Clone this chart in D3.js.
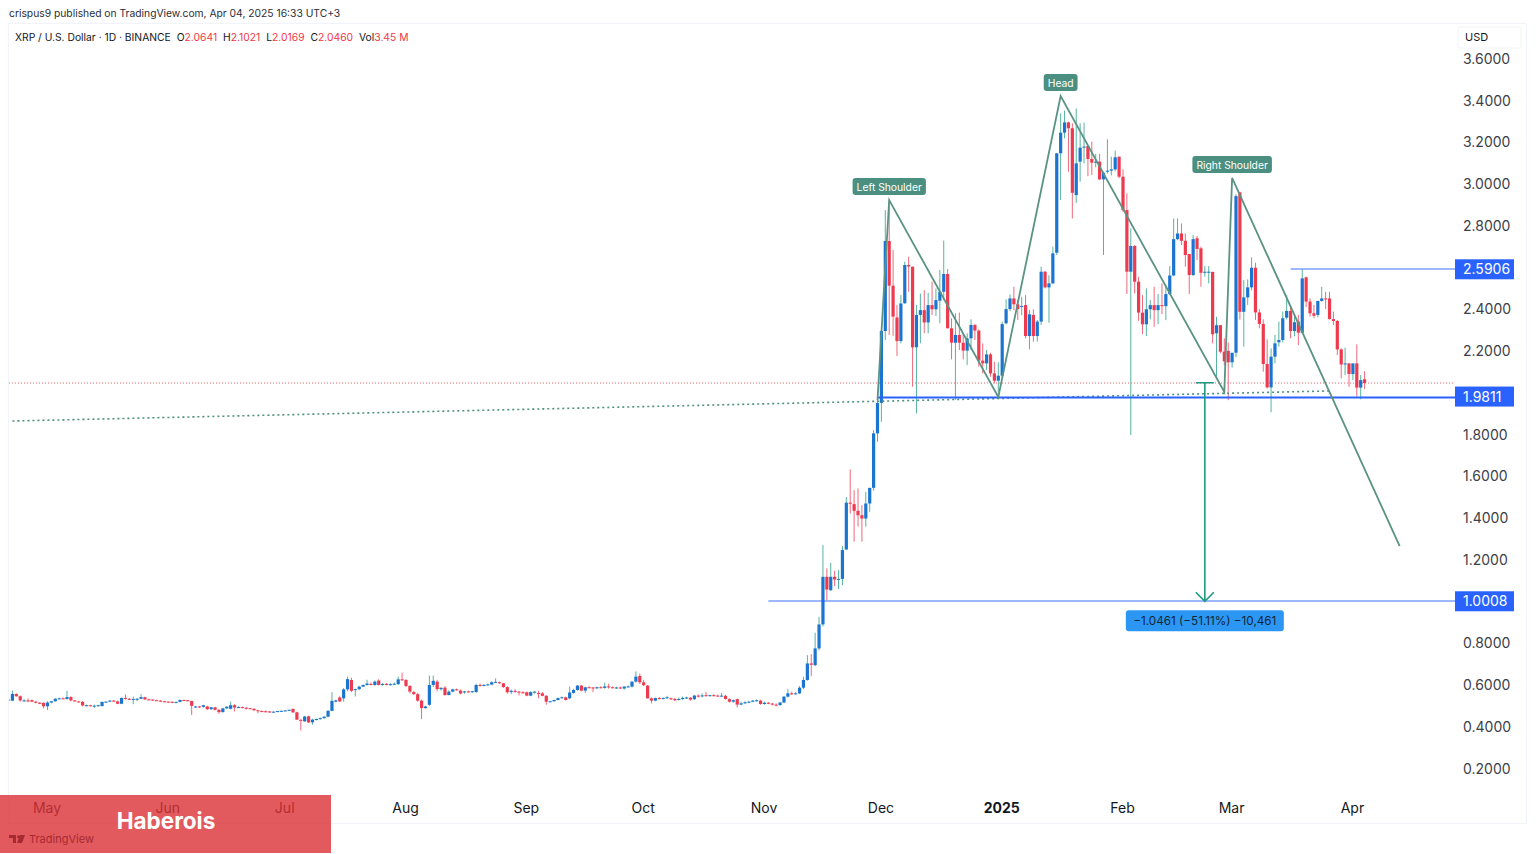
<!DOCTYPE html>
<html>
<head>
<meta charset="utf-8">
<script src="https://d3js.org/d3.v7.min.js"></script>
<style>
  html, body { margin: 0; padding: 0; background: #fff; overflow: hidden; }
  svg { display: block; }
  text { font-family: Inter, Roboto, sans-serif; }
</style>
</head>
<body>
<svg id="chart" width="1536" height="854"></svg>
<script>
/* daily candles: first one is 21 Apr 2024 */
var firstDay = "2024-04-21";

var opens = [
  .530,.525,.557,.546,.526,.526,.527,.520,.515,.514,
  .498,.516,.522,.534,.536,.533,.542,.526,.521,.519,
  .502,.503,.500,.501,.499,.519,.520,.525,.521,.510,
  .538,.534,.530,.531,.534,.541,.531,.530,.527,.525,
  .522,.520,.519,.516,.519,.528,.527,.523,.497,.497,
  .495,.497,.484,.493,.481,.470,.488,.486,.503,.494,
  .494,.491,.489,.486,.479,.475,.474,.473,.471,.472,
  .475,.476,.478,.485,.469,.433,.426,.450,.421,.434,
  .437,.441,.448,.476,.520,.540,.536,.579,.624,.578,
  .580,.592,.600,.605,.600,.621,.602,.605,.603,.604,
  .604,.627,.624,.595,.566,.556,.525,.489,.505,.600,
  .616,.580,.587,.552,.568,.579,.573,.565,.569,.568,
  .566,.600,.598,.600,.602,.613,.613,.608,.590,.566,
  .572,.568,.565,.565,.549,.566,.562,.560,.548,.520,
  .522,.528,.537,.541,.536,.562,.576,.597,.573,.589,
  .588,.584,.589,.586,.593,.589,.587,.588,.583,.592,
  .592,.616,.643,.613,.597,.536,.525,.537,.534,.538,
  .536,.533,.530,.533,.538,.539,.532,.549,.546,.551,
  .549,.551,.549,.548,.548,.532,.520,.532,.506,.512,
  .517,.520,.525,.525,.509,.515,.511,.506,.504,.516,
  .544,.560,.558,.560,.587,.624,.703,.695,.775,.890,
  1.118,1.054,1.118,1.105,1.108,1.249,1.473,1.466,1.434,1.413,
  1.397,1.469,1.544,1.805,1.951,2.295,2.726,2.512,2.360,2.247,
  2.428,2.611,2.603,2.217,2.372,2.395,2.336,2.419,2.399,2.440,
  2.483,2.568,2.308,2.239,2.276,2.239,2.201,2.260,2.324,2.297,
  2.153,2.140,2.183,2.092,2.057,2.081,2.332,2.400,2.451,2.423,
  2.412,2.419,2.271,2.372,2.271,2.340,2.579,2.504,2.523,2.670,
  3.146,3.245,3.294,3.266,2.946,3.106,3.173,3.181,3.119,3.101,
  3.106,3.021,3.058,3.063,3.069,3.130,3.034,2.874,2.579,2.702,
  2.531,2.383,2.327,2.399,2.419,2.395,2.419,2.414,2.472,2.561,
  2.735,2.762,2.727,2.664,2.563,2.739,2.691,2.574,2.579,2.578,
  2.284,2.323,2.196,2.200,2.145,2.191,2.959,2.387,2.456,2.504,
  2.598,2.384,2.329,2.137,2.025,2.172,2.241,2.252,2.359,2.391,
  2.295,2.340,2.287,2.552,2.436,2.380,2.372,2.439,2.451,2.451,
  2.352,2.343,2.207,2.135,2.140,2.089,2.140,2.024,2.0641
];
var highs = [
  .535,.573,.560,.550,.532,.536,.530,.524,.518,.518,
  .522,.524,.536,.540,.540,.572,.546,.528,.524,.523,
  .506,.505,.506,.505,.520,.522,.528,.528,.526,.540,
  .555,.538,.545,.538,.556,.544,.534,.532,.530,.527,
  .524,.522,.522,.520,.530,.530,.528,.525,.500,.499,
  .505,.500,.494,.495,.484,.490,.498,.520,.508,.498,
  .497,.495,.490,.488,.481,.478,.478,.476,.474,.476,
  .478,.480,.483,.488,.472,.437,.452,.453,.438,.440,
  .444,.451,.480,.565,.530,.546,.585,.640,.635,.582,
  .596,.602,.625,.612,.622,.628,.610,.610,.608,.612,
  .640,.659,.628,.600,.572,.561,.530,.500,.645,.645,
  .625,.590,.595,.575,.582,.583,.578,.572,.573,.572,
  .606,.607,.604,.606,.618,.632,.616,.610,.594,.578,
  .580,.572,.570,.568,.570,.572,.572,.566,.552,.524,
  .530,.540,.545,.544,.592,.582,.600,.600,.592,.594,
  .590,.592,.594,.612,.606,.593,.592,.592,.595,.598,
  .617,.665,.655,.625,.600,.540,.540,.542,.540,.548,
  .540,.538,.540,.545,.544,.542,.553,.555,.560,.567,
  .553,.556,.554,.562,.553,.536,.530,.535,.520,.522,
  .524,.528,.531,.529,.520,.518,.514,.512,.517,.548,
  .580,.568,.566,.595,.640,.743,.748,.850,.927,1.270,
  1.158,1.185,1.147,1.150,1.265,1.500,1.632,1.533,1.541,1.461,
  1.525,1.544,1.820,1.985,2.300,2.874,2.922,2.683,2.419,2.467,
  2.627,2.651,2.603,2.420,2.475,2.491,2.478,2.531,2.499,2.587,
  2.728,2.592,2.356,2.380,2.383,2.284,2.284,2.351,2.328,2.303,
  2.236,2.204,2.191,2.148,2.145,2.340,2.447,2.470,2.507,2.444,
  2.459,2.467,2.395,2.399,2.348,2.603,2.582,2.563,2.699,3.146,
  3.337,3.350,3.297,3.290,3.361,3.290,3.293,3.181,3.202,3.143,
  3.143,3.058,3.213,3.130,3.159,3.130,3.069,2.954,2.787,2.707,
  2.555,2.467,2.499,2.443,2.507,2.472,2.523,2.515,2.606,2.834,
  2.834,2.810,2.762,2.664,2.755,2.750,2.699,2.606,2.606,2.579,
  2.363,2.323,2.260,2.240,2.190,2.950,2.962,2.539,2.542,2.648,
  2.622,2.400,2.351,2.255,2.212,2.276,2.340,2.388,2.467,2.412,
  2.364,2.372,2.590,2.555,2.452,2.420,2.440,2.507,2.483,2.483,
  2.388,2.348,2.212,2.215,2.140,2.140,2.231,2.084,2.1021
];
var lows = [
  .525,.522,.544,.520,.520,.518,.518,.512,.508,.488,
  .480,.512,.520,.532,.533,.530,.522,.520,.516,.498,
  .498,.497,.490,.496,.497,.515,.518,.520,.508,.508,
  .530,.529,.508,.522,.532,.528,.526,.525,.524,.520,
  .518,.518,.513,.512,.517,.524,.520,.456,.490,.490,
  .492,.480,.480,.478,.462,.468,.485,.483,.473,.490,
  .488,.482,.484,.476,.464,.470,.469,.468,.468,.470,
  .472,.474,.476,.466,.432,.382,.423,.418,.410,.430,
  .434,.438,.445,.474,.516,.519,.520,.570,.566,.545,
  .575,.590,.596,.598,.596,.598,.596,.598,.596,.600,
  .600,.620,.590,.560,.552,.520,.436,.487,.500,.590,
  .570,.573,.548,.550,.565,.573,.556,.558,.564,.562,
  .563,.592,.594,.596,.598,.610,.605,.586,.558,.556,
  .562,.550,.558,.546,.546,.558,.536,.546,.505,.518,
  .520,.526,.535,.525,.532,.558,.572,.570,.562,.585,
  .565,.580,.584,.582,.582,.584,.582,.580,.578,.588,
  .588,.612,.605,.595,.535,.512,.522,.530,.530,.532,
  .528,.522,.526,.528,.533,.525,.528,.540,.540,.545,
  .545,.546,.545,.544,.530,.516,.515,.492,.503,.508,
  .512,.517,.520,.505,.505,.508,.502,.498,.500,.514,
  .540,.552,.555,.556,.580,.620,.642,.690,.765,.880,
  1.006,1.050,1.073,1.060,1.078,1.246,1.421,1.286,1.358,1.286,
  1.358,1.429,1.530,1.765,1.860,2.252,2.276,2.272,2.175,2.236,
  2.425,2.483,2.028,1.900,2.236,2.284,2.284,2.372,2.367,2.332,
  2.443,2.308,2.159,1.965,2.204,2.159,2.132,2.204,2.252,2.124,
  2.092,2.108,2.076,2.044,2.004,2.070,2.327,2.390,2.395,2.348,
  2.371,2.260,2.207,2.244,2.244,2.324,2.499,2.335,2.520,2.659,
  2.922,3.218,3.058,2.834,2.909,3.010,3.098,3.037,3.042,3.079,
  3.018,2.659,3.050,3.040,3.060,3.026,2.866,2.472,1.797,2.475,
  2.344,2.280,2.271,2.351,2.315,2.328,2.376,2.347,2.467,2.558,
  2.730,2.707,2.603,2.472,2.558,2.635,2.507,2.555,2.523,2.236,
  2.076,2.188,2.130,1.964,2.120,2.170,2.350,2.220,2.420,2.490,
  2.348,2.308,2.100,2.020,1.906,2.140,2.220,2.240,2.350,2.260,
  2.270,2.228,2.284,2.410,2.364,2.356,2.360,2.435,2.400,2.350,
  2.324,2.180,2.068,2.084,2.028,2.060,1.981,1.968,2.0169
];
var closes = [
  .528,.557,.546,.526,.526,.525,.520,.515,.510,.498,
  .516,.522,.534,.536,.534,.542,.526,.521,.518,.502,
  .503,.500,.501,.503,.519,.520,.525,.522,.510,.538,
  .534,.531,.533,.534,.542,.531,.530,.527,.525,.522,
  .520,.519,.516,.519,.528,.527,.523,.500,.497,.495,
  .503,.484,.493,.481,.470,.488,.496,.503,.492,.494,
  .491,.489,.486,.479,.475,.474,.472,.471,.472,.475,
  .476,.478,.481,.469,.434,.430,.449,.421,.434,.437,
  .441,.448,.476,.524,.526,.521,.579,.628,.572,.580,
  .592,.600,.607,.604,.616,.600,.605,.603,.604,.606,
  .627,.624,.595,.568,.556,.525,.489,.497,.600,.620,
  .580,.586,.552,.568,.579,.578,.559,.569,.568,.570,
  .600,.598,.600,.603,.613,.615,.608,.590,.565,.572,
  .568,.565,.562,.549,.566,.568,.560,.548,.520,.522,
  .528,.537,.541,.528,.564,.576,.597,.573,.589,.588,
  .584,.589,.588,.593,.589,.587,.588,.585,.592,.593,
  .616,.640,.613,.599,.536,.525,.537,.534,.538,.541,
  .533,.527,.533,.538,.540,.530,.549,.546,.550,.549,
  .551,.549,.548,.549,.533,.520,.527,.506,.512,.517,
  .520,.525,.527,.509,.515,.511,.506,.504,.516,.544,
  .560,.558,.560,.587,.624,.703,.697,.775,.890,1.118,
  1.057,1.118,1.105,1.108,1.246,1.473,1.468,1.434,1.413,1.397,
  1.469,1.544,1.805,1.951,2.295,2.726,2.512,2.364,2.247,2.427,
  2.611,2.604,2.217,2.372,2.395,2.336,2.419,2.399,2.443,2.483,
  2.568,2.308,2.239,2.276,2.239,2.201,2.260,2.324,2.297,2.153,
  2.140,2.183,2.092,2.057,2.081,2.328,2.400,2.451,2.423,2.400,
  2.415,2.271,2.375,2.271,2.340,2.579,2.504,2.523,2.667,3.146,
  3.245,3.294,3.266,2.957,3.098,3.173,3.178,3.119,3.101,3.106,
  3.021,3.053,3.063,3.069,3.127,3.034,2.874,2.579,2.702,2.531,
  2.383,2.327,2.399,2.419,2.395,2.419,2.414,2.472,2.561,2.735,
  2.762,2.727,2.659,2.563,2.735,2.688,2.574,2.579,2.579,2.279,
  2.323,2.196,2.150,2.145,2.191,2.941,2.387,2.456,2.504,2.598,
  2.384,2.329,2.137,2.025,2.172,2.236,2.252,2.356,2.391,2.295,
  2.337,2.287,2.547,2.436,2.380,2.368,2.439,2.451,2.449,2.352,
  2.343,2.207,2.135,2.140,2.089,2.140,2.024,2.060,2.0460
];

/* axes */
var priceTicks = [3.6, 3.4, 3.2, 3.0, 2.8, 2.4, 2.2, 1.8, 1.6, 1.4, 1.2, 0.8, 0.6, 0.4, 0.2];
var monthTicks = ["2024-05-01","2024-06-01","2024-07-01","2024-08-01","2024-09-01","2024-10-01","2024-11-01","2024-12-01","2025-01-01","2025-02-01","2025-03-01","2025-04-01"];
var monthLabels = ["May","Jun","Jul","Aug","Sep","Oct","Nov","Dec","2025","Feb","Mar","Apr"];

/* drawings on the chart */
var patternDates = ["2024-11-30","2024-12-03","2024-12-31","2025-01-16","2025-02-27","2025-03-01","2025-04-13"];
var patternPrices = [1.964, 2.922, 1.979, 3.420, 2.003, 3.028, 1.265];
var patternLabels = ["Left Shoulder", "Head", "Right Shoulder"];
var patternLabelDates = ["2024-12-03", "2025-01-16", "2025-03-01"];
var patternLabelPrices = [2.922, 3.420, 3.028];

var neckDates = ["2024-04-22", "2025-03-26"];
var neckPrices = [1.864, 2.008];

var levelPrices = [2.5906, 1.9811, 1.0008];
var levelStarts = ["2025-03-16", "2024-11-30", "2024-11-02"];
var levelWidths = [1.6, 2, 1.6];

var lastPrice = 2.0460;
var measureDate = "2025-02-22";
var measureFrom = 2.0469;
var measureTo = 1.0008;
var measureText = "\u22121.0461 (\u221251.11%) \u221210,461";

var svg = d3.select("#chart");

var plotLeft = 9, plotRight = 1455, plotTop = 24, plotBottom = 823;

var x = d3.scaleUtc()
  .domain([new Date("2024-05-01"), new Date("2025-04-01")])
  .range([47.5, 1352.9]);

var y = d3.scaleLinear()
  .domain([0.2, 3.6])
  .range([768.5, 58.5]);

var day0 = new Date(firstDay);
var candles = closes.map(function(c, i) {
  return { date: d3.utcDay.offset(day0, i), o: opens[i], h: highs[i], l: lows[i], c: c };
});

/* frame */
svg.append("rect")
  .attr("x", plotLeft - 0.5).attr("y", plotTop - 0.5)
  .attr("width", 1527 - plotLeft).attr("height", plotBottom - plotTop + 1)
  .attr("fill", "none").attr("stroke", "#f0f3fa");

svg.append("defs").append("clipPath").attr("id", "plot")
  .append("rect")
  .attr("x", plotLeft).attr("y", plotTop)
  .attr("width", plotRight - plotLeft).attr("height", plotBottom - plotTop);

var plot = svg.append("g").attr("clip-path", "url(#plot)");

/* last price line */
plot.append("line")
  .attr("x1", plotLeft).attr("x2", plotRight)
  .attr("y1", y(lastPrice)).attr("y2", y(lastPrice))
  .attr("stroke", "#f23645").attr("stroke-width", 1)
  .attr("stroke-dasharray", "1 2").attr("opacity", 0.8);

/* candles */
var candle = plot.selectAll("g.candle")
  .data(candles)
  .enter()
  .append("g")
  .attr("class", "candle");

candle.append("line")
  .attr("x1", function(d) { return x(d.date); })
  .attr("x2", function(d) { return x(d.date); })
  .attr("y1", function(d) { return y(d.h); })
  .attr("y2", function(d) { return y(d.l); })
  .attr("stroke-width", 1)
  .attr("stroke", function(d) { return d.c >= d.o ? "#56b3a2" : "#f0697c"; });

candle.append("rect")
  .attr("x", function(d) { return x(d.date) - 1.6; })
  .attr("width", 3.2)
  .attr("y", function(d) { return y(Math.max(d.o, d.c)); })
  .attr("height", function(d) { return Math.max(1, Math.abs(y(d.o) - y(d.c))); })
  .attr("fill", function(d) { return d.c >= d.o ? "#1b74d0" : "#ee3a4e"; });

/* neckline */
plot.append("line")
  .attr("x1", x(new Date(neckDates[0]))).attr("x2", x(new Date(neckDates[1])))
  .attr("y1", y(neckPrices[0])).attr("y2", y(neckPrices[1]))
  .attr("stroke", "#4f8f7f").attr("stroke-width", 1.6)
  .attr("stroke-dasharray", "2 3");

/* horizontal levels */
levelPrices.forEach(function(p, i) {
  var ly = Math.round(y(p)) + (i == 1 ? 0.5 : 0);
  plot.append("line")
    .attr("x1", x(new Date(levelStarts[i]))).attr("x2", plotRight)
    .attr("y1", ly).attr("y2", ly)
    .attr("stroke", "#2962ff")
    .attr("opacity", i == 1 ? 1 : 0.6)
    .attr("stroke-width", levelWidths[i]);
});

/* head and shoulders */
var patternLine = d3.line()
  .x(function(d) { return x(new Date(d)); })
  .y(function(d, i) { return y(patternPrices[i]); });

plot.append("path")
  .attr("d", patternLine(patternDates))
  .attr("fill", "none")
  .attr("stroke", "#5a9384")
  .attr("stroke-width", 1.8);

var tag = plot.selectAll("g.tag")
  .data(patternLabels)
  .enter()
  .append("g")
  .attr("class", "tag")
  .attr("transform", function(d, i) {
    return "translate(" + x(new Date(patternLabelDates[i])) + "," + (y(patternLabelPrices[i]) - 13) + ")";
  });

tag.append("text")
  .attr("text-anchor", "middle")
  .attr("dy", "0.35em")
  .attr("font-size", 10.3)
  .attr("fill", "#fff")
  .text(function(d) { return d; });

tag.insert("rect", "text")
  .each(function() {
    var b = this.parentNode.querySelector("text").getBBox();
    d3.select(this)
      .attr("x", b.x - 4).attr("width", b.width + 8)
      .attr("y", -9).attr("height", 17);
  })
  .attr("rx", 3)
  .attr("fill", "#4b8f80");

/* measure arrow */
var mx = x(new Date(measureDate));
var arrow = d3.path();
arrow.moveTo(mx - 9, y(measureFrom));
arrow.lineTo(mx + 9, y(measureFrom));
arrow.moveTo(mx, y(measureFrom));
arrow.lineTo(mx, y(measureTo));
arrow.moveTo(mx - 9, y(measureTo) - 9);
arrow.lineTo(mx, y(measureTo));
arrow.lineTo(mx + 9, y(measureTo) - 9);

plot.append("path")
  .attr("d", arrow.toString())
  .attr("fill", "none")
  .attr("stroke", "#1f9a80")
  .attr("stroke-width", 1.6);

plot.append("rect")
  .attr("x", mx - 79).attr("y", y(measureTo) + 9)
  .attr("width", 158).attr("height", 21)
  .attr("rx", 3)
  .attr("fill", "#2b97f3");

plot.append("text")
  .attr("x", mx).attr("y", y(measureTo) + 19.5)
  .attr("text-anchor", "middle")
  .attr("dy", "0.35em")
  .attr("font-size", 11.7)
  .attr("fill", "#12263a")
  .text(measureText);

/* price axis */
var yAxis = d3.axisRight(y)
  .tickValues(priceTicks)
  .tickSize(0)
  .tickPadding(0)
  .tickFormat(d3.format(".4f"));

var yAxisG = svg.append("g")
  .attr("transform", "translate(1463,0.3)")
  .call(yAxis);
yAxisG.select(".domain").remove();
yAxisG.selectAll("text")
  .attr("font-size", 14)
  .attr("font-family", "Inter, Roboto, sans-serif")
  .attr("fill", "#3c4048");

/* level tags on the axis */
var levelTag = svg.selectAll("g.level")
  .data(levelPrices)
  .enter()
  .append("g")
  .attr("class", "level")
  .attr("transform", function(d) { return "translate(1455," + y(d) + ")"; });

levelTag.append("rect")
  .attr("x", 0).attr("y", -10)
  .attr("width", 59).attr("height", 20)
  .attr("fill", "#2962ff");

levelTag.append("text")
  .attr("x", 8)
  .attr("y", 0.3)
  .attr("dy", "0.35em")
  .attr("font-size", 14)
  .attr("fill", "#fff")
  .text(function(d) { return d3.format(".4f")(d); });

/* time axis */
var xAxis = d3.axisBottom(x)
  .tickValues(monthTicks.map(function(d) { return new Date(d); }))
  .tickSize(0)
  .tickPadding(0)
  .tickFormat(function(d, i) { return monthLabels[i]; });

var xAxisG = svg.append("g")
  .attr("transform", "translate(-1,803.5)")
  .call(xAxis);
xAxisG.select(".domain").remove();
xAxisG.selectAll("text")
  .attr("font-size", 14)
  .attr("font-family", "Inter, Roboto, sans-serif")
  .attr("fill", "#131722")
  .attr("font-weight", function(d, i) { return monthLabels[i] == "2025" ? 700 : 400; });

/* header texts */
svg.append("text")
  .attr("x", 9).attr("y", 17)
  .attr("font-size", 10.3)
  .attr("font-family", "'Liberation Sans', sans-serif")
  .attr("fill", "#2a2e39")
  .text("crispus9 published on TradingView.com, Apr 04, 2025 16:33 UTC+3");

var legend = svg.append("text")
  .attr("x", 15).attr("y", 40.5)
  .attr("font-size", 10.3)
  .attr("font-family", "'Liberation Sans', sans-serif")
  .attr("fill", "#131722");

legend.append("tspan").text("XRP / U.S. Dollar \u00b7 1D \u00b7 BINANCE");
[["O", "2.0641"], ["H", "2.1021"], ["L", "2.0169"], ["C", "2.0460"], ["Vol", "3.45 M"]].forEach(function(d, i) {
  legend.append("tspan").attr("dx", i == 0 ? 6 : 6).text(d[0]);
  legend.append("tspan").attr("fill", "#f23645").text(d[1]);
});

/* USD button */
svg.append("rect")
  .attr("x", 1458).attr("y", 27)
  .attr("width", 63).attr("height", 21)
  .attr("rx", 2)
  .attr("fill", "#fff")
  .attr("stroke", "#f3f4f7");
svg.append("text")
  .attr("x", 1465).attr("y", 41)
  .attr("font-size", 11)
  .attr("fill", "#131722")
  .text("USD");

/* watermark, the month labels show through it */
svg.append("rect")
  .attr("x", 0).attr("y", 795)
  .attr("width", 331).attr("height", 58)
  .attr("fill", "rgb(219,49,54)")
  .attr("opacity", 0.8);

svg.append("text")
  .attr("x", 166).attr("y", 828.5)
  .attr("text-anchor", "middle")
  .attr("font-size", 22.5)
  .attr("font-weight", 700)
  .attr("fill", "#fff")
  .text("Haberois");

svg.append("path")
  .attr("d", "M9 835h7v8h-3v-5h-4z M17 843l3-8h5l-3 8z")
  .attr("fill", "#a72a33");
svg.append("circle")
  .attr("cx", 18.5).attr("cy", 836.8).attr("r", 1.5)
  .attr("fill", "#a72a33");
svg.append("text")
  .attr("x", 29).attr("y", 843)
  .attr("font-size", 11)
  .attr("fill", "#a72a33")
  .text("TradingView");
</script>
</body>
</html>
